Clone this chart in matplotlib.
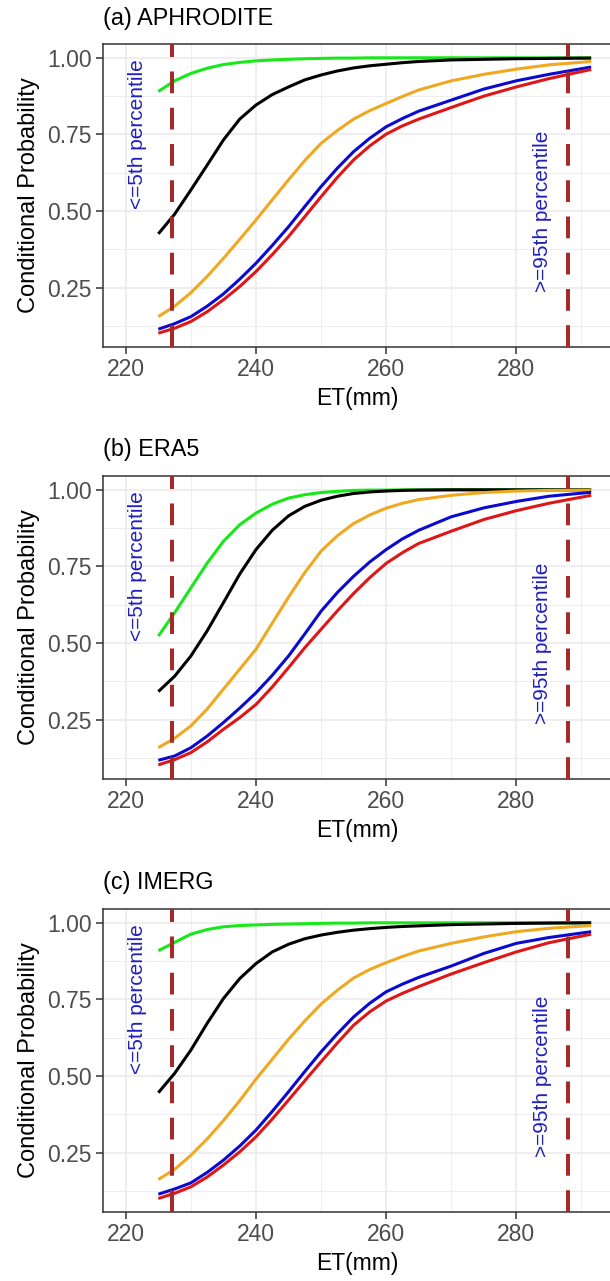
import numpy as np
import matplotlib
matplotlib.use('Agg')
import matplotlib.pyplot as plt
from matplotlib.ticker import MultipleLocator

plt.rcParams['font.family'] = ['Liberation Sans', 'DejaVu Sans']

et = [225, 227.5, 230, 232.5, 235, 237.5, 240, 242.5, 245, 247.5, 250,
      252.5, 255, 257.5, 260, 262.5, 265, 270, 275, 280, 285, 291.5]

# (a) APHRODITE
green_a = [0.890, 0.925, 0.949, 0.966, 0.978, 0.985, 0.990, 0.993, 0.995, 0.997, 0.998,
           0.999, 0.999, 1.0, 1.0, 1.0, 1.0, 1.0, 1.0, 1.0, 1.0, 1.0]
black_a = [0.426, 0.490, 0.569, 0.650, 0.732, 0.800, 0.846, 0.880, 0.905, 0.928, 0.944,
           0.957, 0.967, 0.974, 0.979, 0.984, 0.988, 0.993, 0.995, 0.997, 0.998, 0.999]
orange_a = [0.156, 0.190, 0.234, 0.287, 0.346, 0.408, 0.471, 0.537, 0.602, 0.665, 0.721,
            0.763, 0.800, 0.828, 0.851, 0.874, 0.895, 0.925, 0.946, 0.963, 0.977, 0.988]
blue_a = [0.115, 0.133, 0.156, 0.190, 0.230, 0.278, 0.330, 0.388, 0.449, 0.515, 0.580,
          0.640, 0.694, 0.738, 0.775, 0.802, 0.826, 0.862, 0.898, 0.925, 0.946, 0.970]
red_a = [0.102, 0.118, 0.140, 0.172, 0.211, 0.254, 0.303, 0.358, 0.417, 0.482, 0.547,
         0.610, 0.667, 0.713, 0.751, 0.778, 0.800, 0.838, 0.875, 0.905, 0.932, 0.962]

# (b) ERA5
green_b = [0.523, 0.599, 0.680, 0.761, 0.832, 0.886, 0.924, 0.953, 0.973, 0.984, 0.991,
           0.995, 0.998, 0.999, 0.999, 1.0, 1.0, 1.0, 1.0, 1.0, 1.0, 1.0]
black_b = [0.342, 0.392, 0.458, 0.540, 0.632, 0.725, 0.805, 0.868, 0.915, 0.946, 0.966,
           0.979, 0.988, 0.993, 0.996, 0.998, 0.999, 1.0, 1.0, 1.0, 1.0, 1.0]
orange_b = [0.159, 0.190, 0.230, 0.285, 0.350, 0.415, 0.480, 0.565, 0.650, 0.730, 0.800,
            0.850, 0.890, 0.918, 0.940, 0.956, 0.968, 0.982, 0.991, 0.996, 0.998, 0.999]
blue_b = [0.118, 0.132, 0.159, 0.197, 0.241, 0.288, 0.338, 0.395, 0.458, 0.530, 0.604,
          0.665, 0.718, 0.765, 0.805, 0.840, 0.868, 0.912, 0.941, 0.962, 0.979, 0.992]
red_b = [0.103, 0.120, 0.143, 0.178, 0.219, 0.257, 0.300, 0.357, 0.420, 0.485, 0.545,
         0.605, 0.662, 0.714, 0.760, 0.795, 0.825, 0.865, 0.903, 0.932, 0.956, 0.982]

# (c) IMERG
green_c = [0.909, 0.936, 0.963, 0.978, 0.987, 0.991, 0.993, 0.995, 0.996, 0.997, 0.998,
           0.999, 0.999, 1.0, 1.0, 1.0, 1.0, 1.0, 1.0, 1.0, 1.0, 1.0]
black_c = [0.446, 0.509, 0.585, 0.672, 0.753, 0.818, 0.867, 0.905, 0.930, 0.948, 0.960,
           0.969, 0.976, 0.981, 0.985, 0.988, 0.990, 0.994, 0.996, 0.998, 0.999, 1.0]
orange_c = [0.163, 0.196, 0.242, 0.295, 0.355, 0.420, 0.490, 0.555, 0.620, 0.680, 0.735,
            0.780, 0.820, 0.848, 0.870, 0.890, 0.908, 0.933, 0.954, 0.971, 0.982, 0.991]
blue_c = [0.115, 0.132, 0.152, 0.186, 0.226, 0.272, 0.324, 0.385, 0.449, 0.515, 0.579,
          0.638, 0.693, 0.738, 0.775, 0.800, 0.822, 0.859, 0.900, 0.933, 0.952, 0.971]
red_c = [0.101, 0.118, 0.139, 0.171, 0.210, 0.253, 0.302, 0.360, 0.422, 0.485, 0.547,
         0.608, 0.666, 0.710, 0.745, 0.770, 0.792, 0.833, 0.870, 0.905, 0.935, 0.963]

titles = ['(a) APHRODITE', '(b) ERA5', '(c) IMERG']
low_pct, high_pct = 227.1, 287.9       # 5th / 95th percentile of ET
low_label_y = [0.75, 0.75, 0.75]
high_label_y = [0.50, 0.50, 0.50]

series = [
    [green_a, black_a, orange_a, blue_a, red_a],
    [green_b, black_b, orange_b, blue_b, red_b],
    [green_c, black_c, orange_c, blue_c, red_c],
]
colors = ['#18e818', 'black', '#f0a820', '#0a0ad0', '#e01515']

W, H = 610, 1281
fig = plt.figure(figsize=(W / 100, H / 100), dpi=100)

# panel tops in pixels; every panel 303 px high, 509 px wide
tops = [44, 476, 909]
for i, top in enumerate(tops):
    ax = fig.add_axes([103 / W, 1 - (top + 303) / H, 509 / W, 303 / H])
    for vals, c in zip(series[i], colors):
        ax.plot(et, vals, color=c, lw=2.2, solid_capstyle='butt',
                solid_joinstyle='round', zorder=3)
    for xv in (low_pct, high_pct):
        ax.axvline(xv, color='#a52a2a', lw=2.9, dashes=(5.4, 3.6), zorder=4)
    ax.text(221.8, low_label_y[i], '<=5th percentile', rotation=90, color='#2020bb',
            fontsize=15, ha='center', va='center', zorder=5)
    ax.text(284.0, high_label_y[i], '>=95th percentile', rotation=90, color='#2020bb',
            fontsize=15, ha='center', va='center', zorder=5)

    ax.set_xlim(216.5, 294.7)
    ax.set_ylim(0.057, 1.045)
    ax.xaxis.set_major_locator(MultipleLocator(20))
    ax.xaxis.set_minor_locator(MultipleLocator(10))
    ax.set_yticks([0.25, 0.5, 0.75, 1.0])
    ax.set_yticklabels(['0.25', '0.50', '0.75', '1.00'])
    ax.yaxis.set_minor_locator(MultipleLocator(0.125))
    ax.grid(which='major', color='#ebebeb', lw=1.2, zorder=0)
    ax.grid(which='minor', color='#ebebeb', lw=0.6, zorder=0)
    ax.set_axisbelow(True)
    ax.tick_params(which='major', length=5, width=1.1, color='#333333',
                   labelcolor='#4d4d4d', labelsize=16.5, pad=3)
    ax.tick_params(which='minor', length=0)
    for sp in ax.spines.values():
        sp.set_color('#333333')
        sp.set_linewidth(1.1)
    ax.set_xlabel('ET(mm)', fontsize=16.5, labelpad=4)
    ax.set_ylabel('Conditional Probability', fontsize=17, labelpad=5)
    fig.text(103 / W, 1 - (top - 26) / H, titles[i], fontsize=16.8, ha='left', va='center')

fig.savefig('out.png', dpi=100)
